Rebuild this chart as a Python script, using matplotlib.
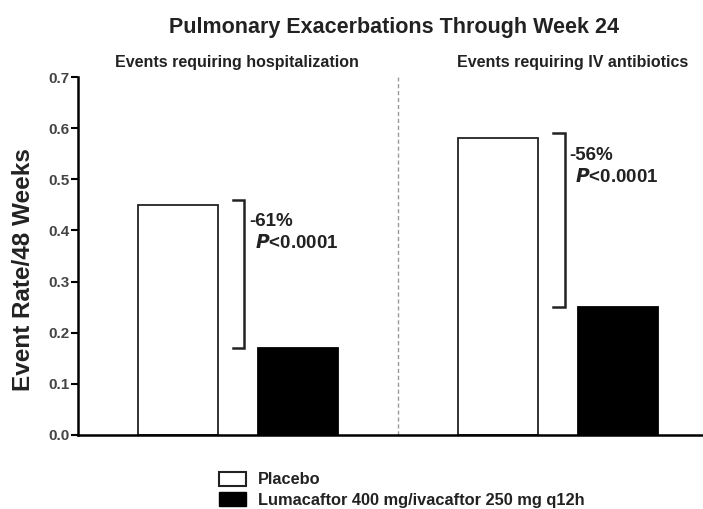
import matplotlib.pyplot as plt
from matplotlib.patches import Patch

# data
groups = ["Events requiring hospitalization", "Events requiring IV antibiotics"]
placebo = [0.45, 0.58]
lumacaftor = [0.17, 0.25]
changes = ["-61%", "-56%"]
pvals = ["<0.0001", "<0.0001"]
series = ["Placebo", "Lumacaftor 400 mg/ivacaftor 250 mg q12h"]

plt.rcParams['font.family'] = ['Liberation Sans', 'DejaVu Sans']

fig = plt.figure(figsize=(7.03, 5.09), dpi=100)
ax = fig.add_axes([0.111, 0.1454, 0.889, 0.7033])

centers = [2.0, 6.0]
off = 0.75
w = 1.0

for i, c in enumerate(centers):
    ax.bar(c - off, placebo[i], w, color='white', edgecolor='#222222', linewidth=1.3)
    ax.bar(c + off, lumacaftor[i], w, color='black', edgecolor='black', linewidth=1.3)

    # bracket
    bx = c + 0.08
    top = placebo[i] + 0.01
    bot = lumacaftor[i]
    ax.plot([bx - 0.14, bx, bx, bx - 0.14], [top, top, bot, bot], color='#222222', lw=1.8,
            solid_joinstyle='miter')
    ax.text(bx + 0.06, top - 0.043, changes[i], fontsize=13.5, fontweight='bold',
            va='center', color='#222222')
    ax.text(bx + 0.13, top - 0.085, r"$\mathbfit{P}$" + pvals[i], fontsize=13.5,
            fontweight='bold', va='center', color='#222222')

ax.axvline(4.0, ymin=0, ymax=1.0, color='#999999', ls=(0, (3, 2)), lw=1)

ax.set_xlim(0, 7.81)
ax.set_ylim(0, 0.7)
ax.set_yticks([0, 0.1, 0.2, 0.3, 0.4, 0.5, 0.6, 0.7])
ax.set_yticklabels(["0.0", "0.1", "0.2", "0.3", "0.4", "0.5", "0.6", "0.7"],
                   fontsize=11, fontweight='bold', color='#444444')
ax.set_xticks([])
ax.spines['top'].set_visible(False)
ax.spines['right'].set_visible(False)
ax.spines['left'].set_linewidth(1.8)
ax.spines['bottom'].set_linewidth(1.8)
ax.tick_params(axis='y', length=5, width=1.5, pad=1)
ax.set_ylabel("Event Rate/48 Weeks", fontsize=17.5, fontweight='bold', color='#222222')
ax.yaxis.set_label_coords(-0.069, 0.462)

fig.text(394 / 703, 1 - 28 / 509, "Pulmonary Exacerbations Through Week 24",
         ha='center', va='center', fontsize=15.5, fontweight='bold', color='#222222')
fig.text(237 / 703, 1 - 63 / 509, groups[0], ha='center', va='center',
         fontsize=11.5, fontweight='bold', color='#222222')
fig.text(573 / 703, 1 - 63 / 509, groups[1], ha='center', va='center',
         fontsize=11.5, fontweight='bold', color='#222222')

handles = [Patch(facecolor='white', edgecolor='#222222', linewidth=1.5),
           Patch(facecolor='black', edgecolor='black')]
leg = fig.legend(handles, series, loc='upper left', bbox_to_anchor=(212 / 703, 1 - 465 / 509),
                 frameon=False, prop={'weight': 'bold', 'size': 11.8}, handlelength=1.7,
                 handleheight=0.95, handletextpad=0.7, labelspacing=0.3, borderaxespad=0)
for t in leg.get_texts():
    t.set_color('#222222')

fig.savefig("out.png", dpi=100)
